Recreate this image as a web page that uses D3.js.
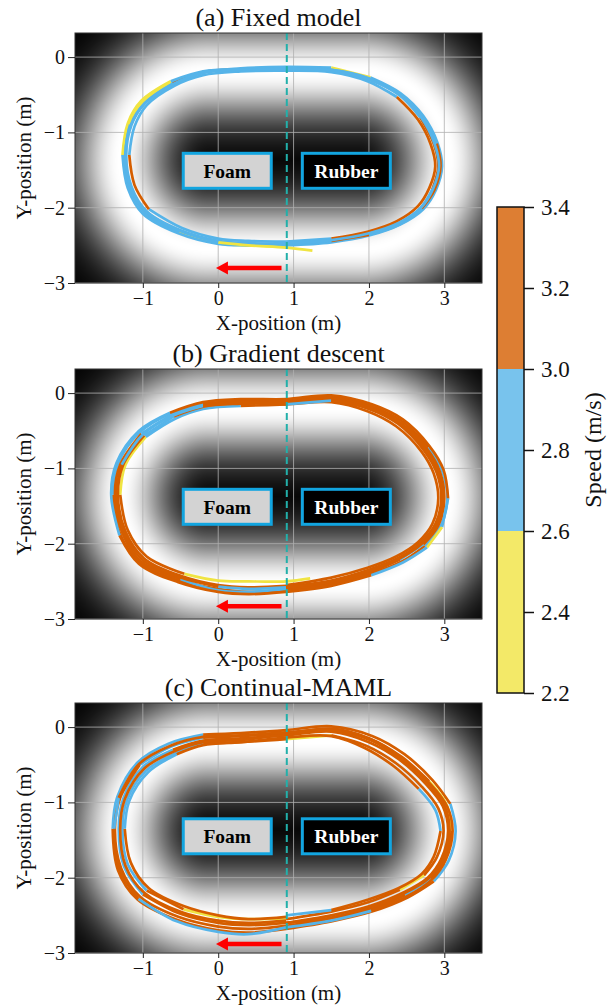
<!DOCTYPE html>
<html>
<head>
<meta charset="utf-8">
<script src="https://cdn.jsdelivr.net/npm/d3@7"></script>
<style>
body { margin: 0; background: #fff; }
text { font-family: "Liberation Serif", "Times New Roman", Times, serif; fill: #111; }
</style>
</head>
<body>
<script>
// panel titles and ticks
var panelTitles = ["(a) Fixed model", "(b) Gradient descent", "(c) Continual-MAML"];
var xTicks = [-1, 0, 1, 2, 3];
var yTicks = [0, -1, -2, -3];
var xDomain = [-1.9, 3.5];
var yDomain = [-3, 0.32];

// speed colour classes
var speedBreaks = [2.6, 3.0];
var speedColors = ["#f0e442", "#56b4e9", "#d55e00"];
var speedBands = [[2.2, 2.6], [2.6, 3.0], [3.0, 3.4]];
var cbTicks = [2.2, 2.4, 2.6, 2.8, 3.0, 3.2, 3.4];

// cost map: stadium around this centre segment
var trackLine = [[-0.12, -1.37], [1.87, -1.37]];
var trackRadius = 1.18;
var trackSpread = 0.45;

// surface labels
var surfaceNames = ["Foam", "Rubber"];
var surfaceX = [0.12, 1.70];
var surfaceY = [-1.51, -1.51, -1.45];
var splitX = 0.91;
var arrowFrom = [0.84, -0.03];
var arrowY = [-2.80, -2.83, -2.88];

// laps: [x, y, speed]
var lapsA = [
  [[0.9,-2.51,2.45],[0.4,-2.5,2.45],[0.0,-2.47,2.45],[-0.52,-2.32,2.8],[-0.97,-2.07,2.8],[-1.18,-1.73,2.8],[-1.25,-1.3,2.8],[-1.18,-0.89,2.45],[-1.0,-0.6,2.45],[-0.62,-0.34,2.8],[-0.2,-0.2,2.8],[0.3,-0.15,2.8],[0.9,-0.13,2.8],[1.5,-0.14,2.45],[2.02,-0.27,2.8],[2.42,-0.48,2.8],[2.72,-0.78,2.8],[2.91,-1.14,2.8],[2.97,-1.45,2.8],[2.89,-1.76,2.8],[2.72,-2.02,2.8],[2.42,-2.22,2.8],[2.0,-2.37,2.8],[1.5,-2.46,2.8],[0.9,-2.5,2.8]],
  [[0.9,-2.48,2.8],[0.4,-2.47,2.8],[0.0,-2.44,2.8],[-0.5,-2.3,2.8],[-0.95,-2.05,2.8],[-1.15,-1.72,2.8],[-1.22,-1.3,2.8],[-1.15,-0.9,2.8],[-0.98,-0.62,2.8],[-0.6,-0.35,3.2],[-0.2,-0.2,3.2],[0.3,-0.17,2.8],[0.9,-0.16,2.8],[1.5,-0.17,2.8],[2.0,-0.29,2.8],[2.4,-0.5,2.8],[2.68,-0.8,3.2],[2.86,-1.15,3.2],[2.92,-1.45,3.2],[2.84,-1.76,2.8],[2.68,-2.01,2.8],[2.4,-2.21,3.2],[2.0,-2.34,2.8],[1.5,-2.43,2.8],[0.9,-2.47,2.8]],
  [[0.9,-2.45,2.8],[0.4,-2.44,2.8],[0.0,-2.41,2.8],[-0.48,-2.27,2.8],[-0.92,-2.02,3.2],[-1.11,-1.7,3.2],[-1.18,-1.3,2.8],[-1.11,-0.92,2.8],[-0.95,-0.64,2.8],[-0.58,-0.38,2.8],[-0.2,-0.24,2.8],[0.3,-0.19,2.8],[0.9,-0.18,2.8],[1.5,-0.2,2.8],[1.98,-0.32,2.8],[2.37,-0.53,3.2],[2.65,-0.83,3.2],[2.82,-1.16,3.2],[2.88,-1.45,3.2],[2.8,-1.74,3.2],[2.65,-1.98,3.2],[2.37,-2.18,3.2],[1.98,-2.32,3.2],[1.5,-2.41,2.8],[0.9,-2.45,2.8]],
  [[0.9,-2.5,2.8],[0.4,-2.5,2.8],[0.0,-2.48,2.8],[-0.53,-2.34,2.8],[-1.0,-2.08,2.8],[-1.2,-1.74,2.8],[-1.27,-1.3,2.45],[-1.2,-0.88,2.45],[-1.02,-0.58,2.45],[-0.63,-0.32,2.8],[-0.2,-0.19,2.8],[0.3,-0.16,2.8],[0.9,-0.15,2.8],[1.5,-0.17,2.8],[2.0,-0.28,2.8],[2.41,-0.49,2.8],[2.71,-0.79,2.8],[2.9,-1.15,3.2],[2.95,-1.45,3.2],[2.87,-1.76,3.2],[2.7,-2.01,2.8],[2.41,-2.22,2.8],[2.0,-2.36,3.2],[1.5,-2.44,2.8],[0.9,-2.49,2.8]],
  [[1.25,-2.57,2.45],[0.9,-2.53,2.45],[0.4,-2.5,2.45],[0.0,-2.46,2.8],[-0.5,-2.31,2.8],[-0.95,-2.05,2.8],[-1.16,-1.72,2.8],[-1.23,-1.3,2.8],[-1.16,-0.9,2.8],[-0.98,-0.62,2.8],[-0.6,-0.36,2.8],[-0.2,-0.21,2.8],[0.3,-0.17,2.8],[0.9,-0.17,2.8],[1.5,-0.18,2.8],[2.0,-0.3,2.8],[2.4,-0.5,2.8],[2.69,-0.8,2.8],[2.87,-1.15,2.8],[2.93,-1.45,2.8],[2.85,-1.75,2.8],[2.69,-2.0,2.8],[2.4,-2.2,2.8],[2.0,-2.34,2.8],[1.5,-2.43,2.8],[0.9,-2.47,2.8]]
];

var lapsB = [
  [[1.22,-2.46,2.45],[0.9,-2.5,2.45],[0.4,-2.5,2.45],[0.0,-2.49,2.45],[-0.45,-2.4,3.2],[-0.95,-2.17,3.2],[-1.2,-1.82,3.2],[-1.3,-1.35,2.45],[-1.23,-0.95,2.45],[-0.96,-0.58,2.8],[-0.57,-0.34,2.8],[-0.2,-0.21,2.8],[0.3,-0.17,3.2],[0.9,-0.15,3.2],[1.5,-0.12,3.2],[1.98,-0.24,3.2],[2.36,-0.44,3.2],[2.7,-0.78,3.2],[2.86,-1.07,3.2],[2.92,-1.4,3.2],[2.84,-1.74,3.2],[2.65,-1.98,3.2],[2.36,-2.17,3.2],[1.98,-2.32,3.2],[1.5,-2.45,3.2],[0.9,-2.55,3.2]],
  [[0.9,-2.62,3.2],[0.4,-2.64,3.2],[0.0,-2.6,3.2],[-0.52,-2.49,3.2],[-1.04,-2.25,3.2],[-1.3,-1.87,3.2],[-1.4,-1.35,2.8],[-1.33,-0.94,2.8],[-1.04,-0.52,2.8],[-0.63,-0.27,2.8],[-0.2,-0.14,3.2],[0.3,-0.1,3.2],[0.9,-0.1,3.2],[1.5,-0.05,3.2],[2.02,-0.17,3.2],[2.43,-0.37,3.2],[2.79,-0.72,2.8],[2.97,-1.03,2.8],[3.04,-1.4,2.8],[2.95,-1.77,2.8],[2.74,-2.03,3.2],[2.43,-2.24,3.2],[2.02,-2.4,3.2],[1.5,-2.54,3.2],[0.9,-2.61,3.2]],
  [[0.9,-2.6,2.8],[0.4,-2.64,2.8],[0.0,-2.62,2.8],[-0.5,-2.47,3.2],[-1.02,-2.24,3.2],[-1.27,-1.86,3.2],[-1.37,-1.35,3.2],[-1.3,-0.95,3.2],[-1.02,-0.54,2.8],[-0.61,-0.29,2.8],[-0.2,-0.15,3.2],[0.3,-0.12,3.2],[0.9,-0.12,3.2],[1.5,-0.07,3.2],[2.0,-0.18,3.2],[2.41,-0.39,3.2],[2.77,-0.74,3.2],[2.94,-1.04,3.2],[3.0,-1.4,3.2],[2.92,-1.76,3.2],[2.72,-2.01,2.8],[2.41,-2.21,3.2],[2.01,-2.38,3.2],[1.5,-2.52,3.2],[0.9,-2.6,3.2]],
  [[0.9,-2.56,3.2],[0.4,-2.58,3.2],[0.0,-2.55,3.2],[-0.49,-2.43,3.2],[-0.98,-2.2,3.2],[-1.23,-1.84,3.2],[-1.33,-1.35,3.2],[-1.26,-0.95,3.2],[-0.98,-0.56,2.8],[-0.59,-0.31,3.2],[-0.2,-0.18,3.2],[0.3,-0.14,3.2],[0.9,-0.13,3.2],[1.5,-0.09,3.2],[2.0,-0.21,3.2],[2.39,-0.41,3.2],[2.73,-0.76,3.2],[2.9,-1.06,3.2],[2.96,-1.4,3.2],[2.88,-1.74,3.2],[2.68,-1.99,3.2],[2.39,-2.19,3.2],[1.99,-2.35,3.2],[1.5,-2.49,3.2],[0.9,-2.57,3.2]],
  [[0.9,-2.64,3.2],[0.4,-2.67,3.2],[0.0,-2.64,3.2],[-0.53,-2.51,3.2],[-1.05,-2.27,3.2],[-1.31,-1.89,2.8],[-1.42,-1.35,2.8],[-1.35,-0.93,2.8],[-1.05,-0.5,2.8],[-0.64,-0.26,3.2],[-0.2,-0.12,3.2],[0.3,-0.08,3.2],[0.9,-0.08,3.2],[1.5,-0.03,3.2],[2.04,-0.15,3.2],[2.45,-0.35,3.2],[2.8,-0.7,3.2],[2.99,-1.02,3.2],[3.05,-1.4,2.8],[2.97,-1.78,2.45],[2.77,-2.05,2.8],[2.45,-2.25,2.8],[2.03,-2.42,3.2],[1.5,-2.56,3.2],[0.9,-2.64,3.2]],
  [[0.9,-2.58,2.8],[0.4,-2.6,2.8],[0.0,-2.57,3.2],[-0.5,-2.45,3.2],[-1.0,-2.22,3.2],[-1.25,-1.85,3.2],[-1.35,-1.35,3.2],[-1.28,-0.95,2.8],[-1.0,-0.55,2.8],[-0.6,-0.3,2.8],[-0.2,-0.17,3.2],[0.3,-0.13,3.2],[0.9,-0.15,2.8],[1.5,-0.1,3.2],[2.0,-0.2,3.2],[2.4,-0.4,3.2],[2.75,-0.75,3.2],[2.92,-1.05,3.2],[2.98,-1.4,3.2],[2.9,-1.75,3.2],[2.7,-2.0,3.2],[2.4,-2.2,3.2],[2.0,-2.36,3.2],[1.5,-2.5,3.2],[0.9,-2.58,3.2]]
];

var lapsC = [
  [[0.9,-2.6,3.2],[0.4,-2.63,3.2],[0.0,-2.6,3.2],[-0.5,-2.48,3.2],[-1.0,-2.22,2.8],[-1.25,-1.85,2.8],[-1.32,-1.35,2.8],[-1.26,-0.95,2.8],[-1.0,-0.53,2.8],[-0.6,-0.3,3.2],[-0.2,-0.18,3.2],[0.3,-0.15,3.2],[0.9,-0.11,3.2],[1.5,-0.06,3.2],[2.0,-0.2,3.2],[2.4,-0.43,3.2],[2.75,-0.75,3.2],[2.98,-1.05,3.2],[3.05,-1.38,3.2],[2.96,-1.75,3.2],[2.78,-2.0,3.2],[2.45,-2.2,3.2],[2.0,-2.38,3.2],[1.5,-2.5,3.2],[0.9,-2.6,3.2]],
  [[0.9,-2.68,3.2],[0.4,-2.73,3.2],[0.0,-2.7,3.2],[-0.55,-2.56,3.2],[-1.07,-2.29,3.2],[-1.33,-1.9,3.2],[-1.4,-1.35,2.8],[-1.34,-0.93,2.8],[-1.07,-0.47,2.8],[-0.66,-0.22,2.8],[-0.2,-0.1,3.2],[0.3,-0.08,3.2],[0.9,-0.04,3.2],[1.5,0.01,3.2],[2.05,-0.12,3.2],[2.47,-0.36,3.2],[2.84,-0.7,3.2],[3.08,-1.02,2.8],[3.15,-1.38,2.8],[3.06,-1.77,2.8],[2.86,-2.05,3.2],[2.52,-2.26,3.2],[2.04,-2.45,3.2],[1.5,-2.58,3.2],[0.9,-2.68,3.2]],
  [[0.9,-2.64,3.2],[0.4,-2.68,3.2],[0.0,-2.65,3.2],[-0.53,-2.52,3.2],[-1.04,-2.25,3.2],[-1.29,-1.87,3.2],[-1.37,-1.35,3.2],[-1.3,-0.94,3.2],[-1.04,-0.5,2.8],[-0.63,-0.26,2.8],[-0.2,-0.14,3.2],[0.3,-0.12,3.2],[0.9,-0.08,3.2],[1.5,-0.03,3.2],[2.03,-0.16,3.2],[2.44,-0.4,3.2],[2.8,-0.72,2.45],[3.03,-1.03,2.45],[3.1,-1.38,3.2],[3.01,-1.76,3.2],[2.82,-2.02,2.8],[2.48,-2.23,3.2],[2.02,-2.42,3.2],[1.5,-2.54,3.2],[0.9,-2.64,3.2]],
  [[0.9,-2.54,2.45],[0.4,-2.55,2.45],[0.0,-2.52,2.45],[-0.46,-2.42,3.2],[-0.95,-2.17,2.8],[-1.2,-1.82,2.8],[-1.27,-1.35,2.8],[-1.21,-0.97,2.8],[-0.96,-0.58,2.8],[-0.57,-0.35,2.8],[-0.2,-0.22,3.2],[0.3,-0.2,3.2],[0.9,-0.16,2.45],[1.5,-0.11,3.2],[1.97,-0.25,3.2],[2.36,-0.48,3.2],[2.7,-0.79,3.2],[2.92,-1.08,3.2],[2.99,-1.38,3.2],[2.9,-1.73,3.2],[2.73,-1.97,2.45],[2.41,-2.16,3.2],[1.98,-2.33,3.2],[1.5,-2.45,3.2],[0.9,-2.55,3.2]],
  [[0.9,-2.57,3.2],[0.4,-2.6,3.2],[0.0,-2.57,3.2],[-0.48,-2.46,3.2],[-0.98,-2.2,3.2],[-1.23,-1.84,3.2],[-1.3,-1.35,3.2],[-1.24,-0.96,3.2],[-0.98,-0.55,3.2],[-0.58,-0.32,3.2],[-0.2,-0.2,3.2],[0.3,-0.17,3.2],[0.9,-0.1,3.2],[1.5,-0.02,3.2],[2.0,-0.15,3.2],[2.42,-0.4,3.2],[2.77,-0.73,3.2],[3.0,-1.04,3.2],[3.07,-1.38,3.2],[2.98,-1.76,3.2],[2.79,-2.01,3.2],[2.46,-2.21,3.2],[2.0,-2.4,3.2],[1.5,-2.53,3.2],[0.9,-2.6,3.2]],
  [[0.9,-2.66,2.8],[0.4,-2.75,2.8],[0.0,-2.72,2.8],[-0.55,-2.58,2.8],[-1.06,-2.28,3.2],[-1.31,-1.89,3.2],[-1.38,-1.35,2.8],[-1.32,-0.94,3.2],[-1.05,-0.49,3.2],[-0.64,-0.25,3.2],[-0.2,-0.13,3.2],[0.3,-0.11,3.2],[0.9,-0.07,3.2],[1.5,-0.04,3.2],[2.04,-0.18,3.2],[2.46,-0.45,3.2],[2.82,-0.76,3.2],[3.04,-1.06,3.2],[3.11,-1.38,3.2],[3.02,-1.76,3.2],[2.83,-2.03,3.2],[2.5,-2.25,3.2],[2.03,-2.44,2.8],[1.5,-2.57,2.8],[0.9,-2.66,2.8]],
  [[0.9,-2.52,3.2],[0.4,-2.55,3.2],[0.0,-2.5,3.2],[-0.45,-2.38,3.2],[-0.92,-2.14,3.2],[-1.16,-1.8,3.2],[-1.24,-1.35,2.8],[-1.18,-0.98,2.8],[-0.93,-0.6,2.8],[-0.55,-0.36,3.2],[-0.2,-0.24,3.2],[0.3,-0.2,3.2],[0.9,-0.14,3.2],[1.5,-0.12,3.2],[1.95,-0.28,3.2],[2.33,-0.52,3.2],[2.66,-0.82,2.8],[2.88,-1.1,2.8],[2.95,-1.38,3.2],[2.86,-1.72,3.2],[2.7,-1.95,3.2],[2.39,-2.14,3.2],[1.96,-2.3,3.2],[1.5,-2.43,2.8],[0.9,-2.5,3.2]]
];

var allLaps = [lapsA, lapsB, lapsC];

// layout
var W = 616, H = 1007;
var left = 75, plotW = 407, plotH = 250;
var panelTops = [33, 369, 703];
var boxBlue = "#12a5e0";
var serif = "'Liberation Serif', 'Times New Roman', Times, serif";

var speedColor = d3.scaleThreshold().domain(speedBreaks).range(speedColors);

var svg = d3.select("body").append("svg")
    .attr("width", W)
    .attr("height", H);

panelTitles.forEach(function(t, k) {
  drawPanel(k, t, allLaps[k], panelTops[k]);
});

drawColorbar();

function drawField(g, x, y) {
  var canvas = document.createElement("canvas");
  canvas.width = plotW;
  canvas.height = plotH;
  var ctx = canvas.getContext("2d");
  var img = ctx.createImageData(plotW, plotH);
  var a = trackLine[0], b = trackLine[1];
  for (var j = 0; j < plotH; j++) {
    for (var i = 0; i < plotW; i++) {
      var px = x.invert(i + 0.5), py = y.invert(j + 0.5);
      var dx = Math.max(a[0] - px, 0, px - b[0]);
      var dy = py - a[1];
      var d = Math.sqrt(dx * dx + dy * dy) - trackRadius;
      var v = Math.exp(-d * d / (2 * trackSpread * trackSpread));
      var n = (j * plotW + i) * 4;
      img.data[n] = img.data[n + 1] = img.data[n + 2] = Math.round(255 * v);
      img.data[n + 3] = 255;
    }
  }
  ctx.putImageData(img, 0, 0);
  g.append("image")
    .attr("width", plotW)
    .attr("height", plotH)
    .attr("href", canvas.toDataURL());
}

function drawPanel(k, title, laps, top) {

  var x = d3.scaleLinear().domain(xDomain).range([0, plotW]);
  var y = d3.scaleLinear().domain(yDomain).range([plotH, 0]);

  var g = svg.append("g")
      .attr("transform", "translate(" + left + "," + top + ")");

  drawField(g, x, y);

  // grid
  g.selectAll(".gx").data(xTicks).enter().append("line")
      .attr("x1", function(d) { return x(d); })
      .attr("x2", function(d) { return x(d); })
      .attr("y1", 0).attr("y2", plotH)
      .attr("stroke", "#b0b0b0").attr("stroke-opacity", 0.8).attr("stroke-width", 1);
  g.selectAll(".gy").data(yTicks).enter().append("line")
      .attr("y1", function(d) { return y(d); })
      .attr("y2", function(d) { return y(d); })
      .attr("x1", 0).attr("x2", plotW)
      .attr("stroke", "#b0b0b0").attr("stroke-opacity", 0.8).attr("stroke-width", 1);

  // trajectories, split into runs of one colour
  var line = d3.line()
      .x(function(d) { return x(d[0]); })
      .y(function(d) { return y(d[1]); })
      .curve(d3.curveCatmullRom);

  laps.forEach(function(lap) {
    var runs = [], cur = null;
    lap.forEach(function(p) {
      var c = speedColor(p[2]);
      if (!cur || cur.color !== c) {
        if (cur) cur.pts.push(p);
        cur = {color: c, pts: [p]};
        runs.push(cur);
      } else {
        cur.pts.push(p);
      }
    });
    runs.forEach(function(r) {
      if (r.pts.length < 2) return;
      g.append("path")
          .attr("d", line(r.pts))
          .attr("fill", "none")
          .attr("stroke", r.color)
          .attr("stroke-width", 2.7)
          .attr("stroke-linejoin", "round");
    });
  });

  // surface split
  g.append("line")
      .attr("x1", x(splitX)).attr("x2", x(splitX))
      .attr("y1", 0).attr("y2", plotH)
      .attr("stroke", "#22b0aa")
      .attr("stroke-width", 2)
      .attr("stroke-dasharray", "7,4");

  // direction arrow
  var ay = y(arrowY[k]), tip = x(arrowFrom[1]);
  g.append("line")
      .attr("x1", x(arrowFrom[0])).attr("x2", tip + 10)
      .attr("y1", ay).attr("y2", ay)
      .attr("stroke", "#ff0000").attr("stroke-width", 4.5);
  g.append("path")
      .attr("d", "M" + tip + "," + ay + "L" + (tip + 12) + "," + (ay - 6.5) + "L" + (tip + 12) + "," + (ay + 6.5) + "Z")
      .attr("fill", "#ff0000");

  // surface boxes
  surfaceNames.forEach(function(name, i) {
    var cx = x(surfaceX[i]), cy = y(surfaceY[k]);
    g.append("rect")
        .attr("x", cx - 44).attr("y", cy - 17.5)
        .attr("width", 88).attr("height", 35)
        .attr("fill", i == 0 ? "#d3d3d3" : "#000")
        .attr("stroke", boxBlue)
        .attr("stroke-width", 3);
    g.append("text")
        .attr("x", cx).attr("y", cy)
        .attr("dy", "0.35em")
        .attr("text-anchor", "middle")
        .style("font-size", "19.5px")
        .style("font-weight", "bold")
        .style("fill", i == 0 ? "#000" : "#fff")
        .text(name);
  });

  // frame
  g.append("rect")
      .attr("width", plotW).attr("height", plotH)
      .attr("fill", "none")
      .attr("stroke", "#333").attr("stroke-width", 1);

  // axes
  var fmt = d3.format("d");
  var xAxis = g.append("g")
      .attr("transform", "translate(0," + plotH + ")")
      .call(d3.axisBottom(x).tickValues(xTicks).tickFormat(fmt).tickSize(5).tickPadding(3));
  var yAxis = g.append("g")
      .call(d3.axisLeft(y).tickValues(yTicks).tickFormat(fmt).tickSize(7).tickPadding(3));
  [xAxis, yAxis].forEach(function(a) {
    a.select(".domain").remove();
    a.selectAll("line").attr("stroke", "#222");
    a.selectAll("text").style("font-size", "20px").attr("fill", "#111")
        .style("font-family", serif);
  });

  // title and labels
  g.append("text")
      .attr("x", plotW / 2).attr("y", -7)
      .attr("text-anchor", "middle")
      .style("font-size", "26px")
      .text(title);
  g.append("text")
      .attr("x", plotW / 2).attr("y", plotH + 47)
      .attr("text-anchor", "middle")
      .style("font-size", "21px")
      .text("X-position (m)");
  g.append("text")
      .attr("transform", "translate(" + (31 - left) + "," + (plotH / 2) + ") rotate(-90)")
      .attr("text-anchor", "middle")
      .style("font-size", "21px")
      .text("Y-position (m)");
}

function drawColorbar() {
  var cx = 497, cw = 27;
  var cy = d3.scaleLinear().domain([2.2, 3.4]).range([693, 207]);

  svg.selectAll(".band").data(speedBands).enter().append("rect")
      .attr("x", cx)
      .attr("y", function(d) { return cy(d[1]); })
      .attr("width", cw)
      .attr("height", function(d) { return cy(d[0]) - cy(d[1]); })
      .attr("fill", function(d, i) { return speedColors[i]; })
      .attr("fill-opacity", 0.8);

  svg.append("rect")
      .attr("x", cx).attr("y", cy(3.4))
      .attr("width", cw).attr("height", cy(2.2) - cy(3.4))
      .attr("fill", "none")
      .attr("stroke", "#111").attr("stroke-width", 1.5);

  var ax = svg.append("g")
      .attr("transform", "translate(" + (cx + cw) + ",0)")
      .call(d3.axisRight(cy).tickValues(cbTicks).tickFormat(d3.format(".1f")).tickSize(10).tickPadding(7));
  ax.select(".domain").remove();
  ax.selectAll("line").attr("stroke", "#111").attr("stroke-width", 1.5);
  ax.selectAll("text").style("font-size", "23px").attr("fill", "#111")
      .style("font-family", serif);

  svg.append("text")
      .attr("transform", "translate(601," + ((cy(2.2) + cy(3.4)) / 2) + ") rotate(-90)")
      .attr("text-anchor", "middle")
      .style("font-size", "24px")
      .text("Speed (m/s)");
}
</script>
</body>
</html>
